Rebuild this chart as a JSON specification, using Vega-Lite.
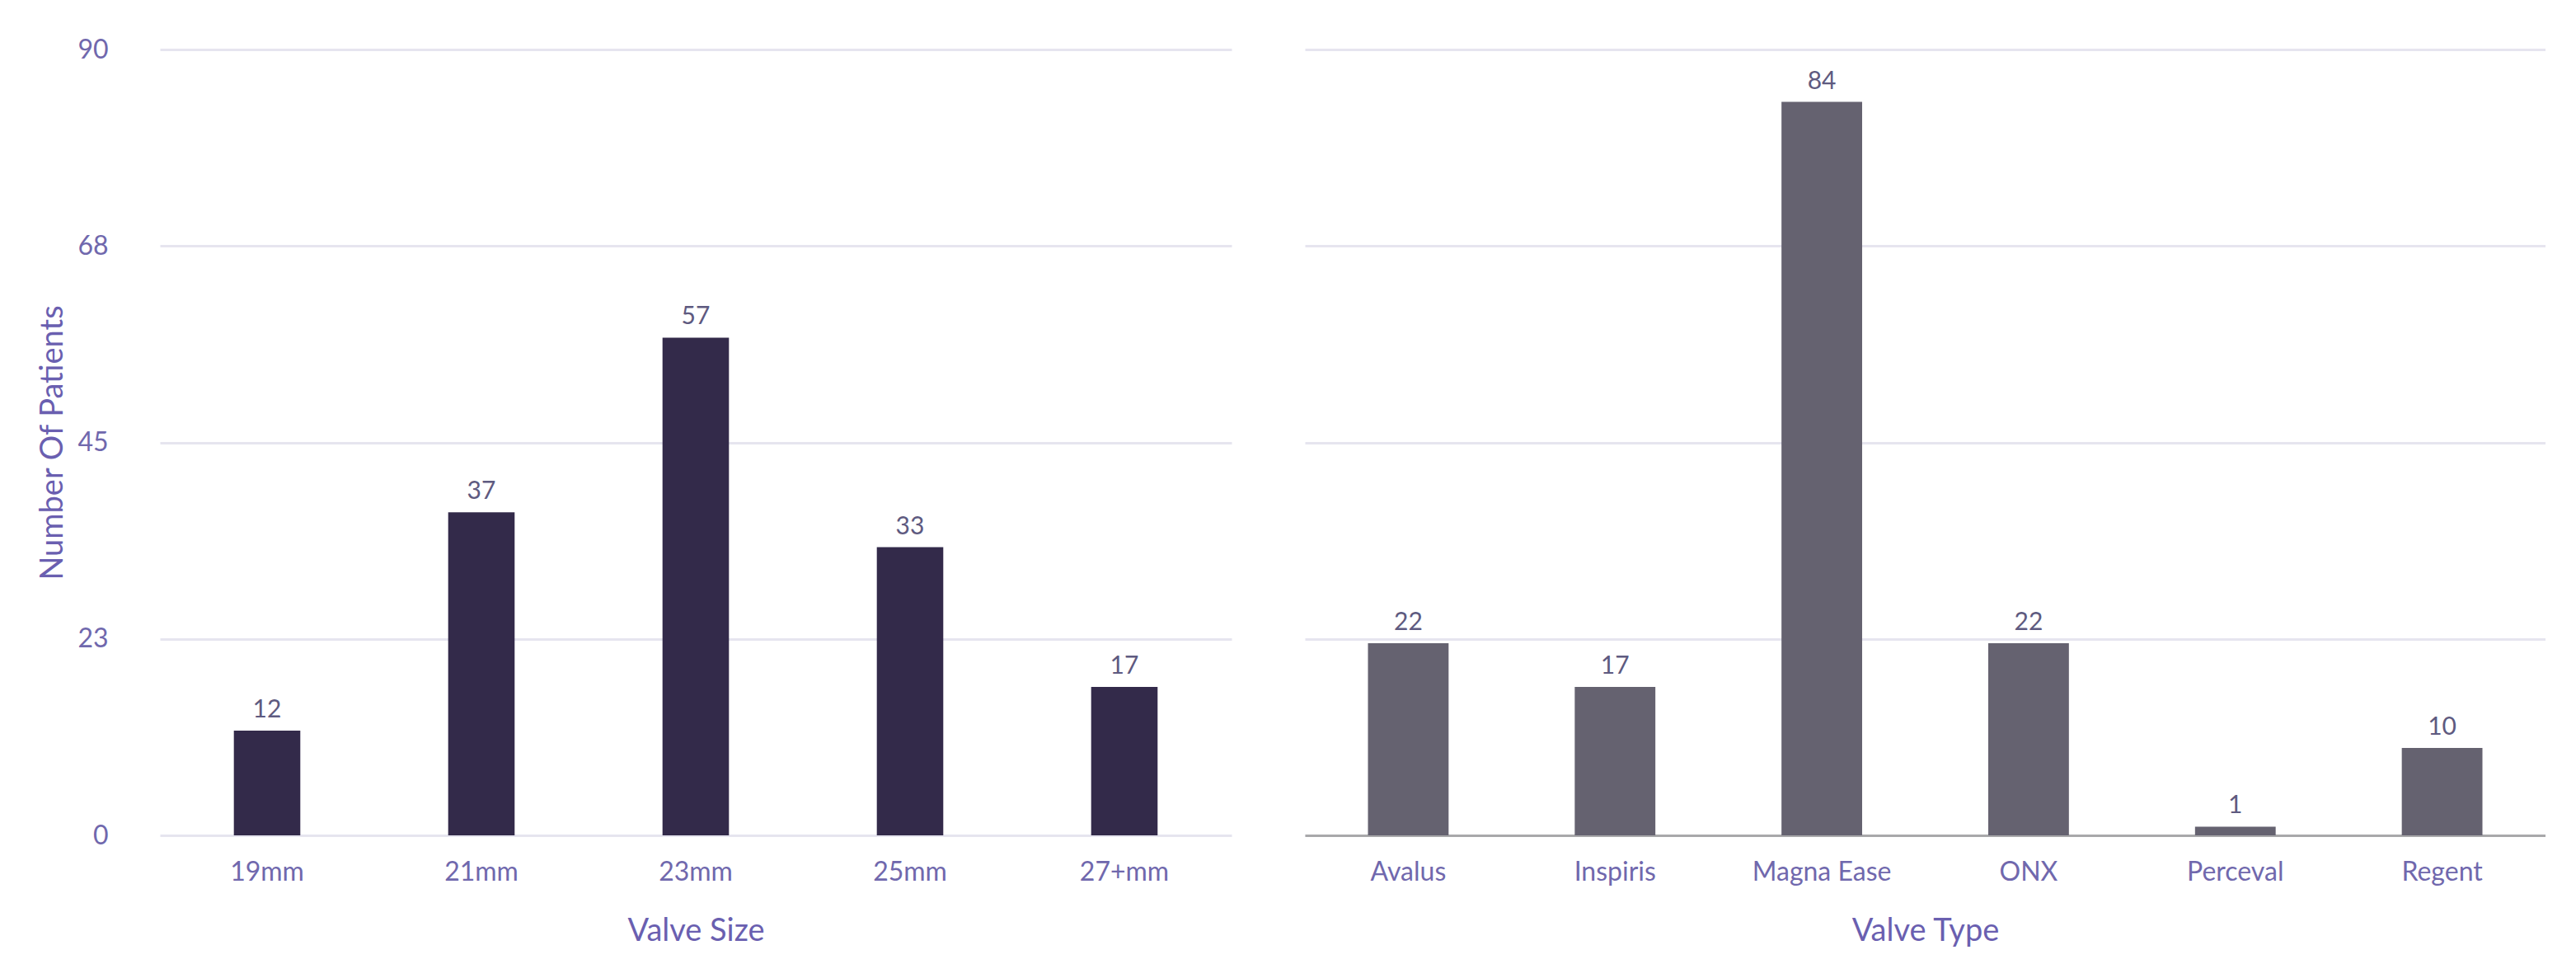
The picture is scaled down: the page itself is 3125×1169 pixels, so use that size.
{
  "$schema": "https://vega.github.io/schema/vega-lite/v6.json",
  "padding": {"left": 45, "top": 44, "right": 0, "bottom": 0},
  "background": "white",
  "spacing": 89,
  "config": {
    "font": "Lato",
    "view": {"stroke": null},
    "axis": {
      "labelFont": "Lato",
      "titleFont": "Lato",
      "labelColor": "#7068ad",
      "titleColor": "#6a5fb0",
      "labelFontSize": 32,
      "titleFontSize": 38,
      "titleFontWeight": "normal",
      "gridColor": "#e6e5ef",
      "gridWidth": 3,
      "ticks": false
    }
  },
  "datasets": {
    "size": [
      {"size": "19mm", "n": 12},
      {"size": "21mm", "n": 37},
      {"size": "23mm", "n": 57},
      {"size": "25mm", "n": 33},
      {"size": "27+mm", "n": 17}
    ],
    "type": [
      {"type": "Avalus", "n": 22},
      {"type": "Inspiris", "n": 17},
      {"type": "Magna Ease", "n": 84},
      {"type": "ONX", "n": 22},
      {"type": "Perceval", "n": 1},
      {"type": "Regent", "n": 10}
    ]
  },
  "hconcat": [
    {
      "width": 1300,
      "height": 953,
      "data": {"name": "size"},
      "encoding": {
        "x": {"field": "size", "type": "nominal", "sort": null,
          "scale": {"paddingInner": 0.69, "paddingOuter": 0.345},
          "axis": {"title": "Valve Size", "labelAngle": 0, "domain": false, "grid": false, "labelPadding": 29, "titlePadding": 37}},
        "y": {"field": "n", "type": "quantitative",
          "scale": {"domain": [0, 90], "nice": false},
          "axis": {"title": "Number Of Patients", "values": [0, 22.5, 45, 67.5, 90], "format": ".0f", "labelPadding": 63, "titlePadding": 10, "domain": false}}
      },
      "layer": [
        {"mark": {"type": "bar", "color": "#332a4a"}},
        {"mark": {"type": "text", "dy": -16, "baseline": "alphabetic", "fontSize": 30, "color": "#5e5a80"},
         "encoding": {"text": {"field": "n", "type": "quantitative"}}}
      ]
    },
    {
      "width": 1505,
      "height": 953,
      "data": {"name": "type"},
      "encoding": {
        "x": {"field": "type", "type": "nominal", "sort": null,
          "scale": {"paddingInner": 0.61, "paddingOuter": 0.305},
          "axis": {"title": "Valve Type", "labelAngle": 0, "domain": true, "domainColor": "#a8a8aa", "domainWidth": 3, "grid": false, "labelPadding": 29, "titlePadding": 37}},
        "y": {"field": "n", "type": "quantitative",
          "scale": {"domain": [0, 90], "nice": false},
          "axis": {"title": null, "values": [0, 22.5, 45, 67.5, 90], "labels": false, "domain": false}}
      },
      "layer": [
        {"mark": {"type": "bar", "color": "#656270"}},
        {"mark": {"type": "text", "dy": -16, "baseline": "alphabetic", "fontSize": 30, "color": "#5e5a80"},
         "encoding": {"text": {"field": "n", "type": "quantitative"}}}
      ]
    }
  ]
}
